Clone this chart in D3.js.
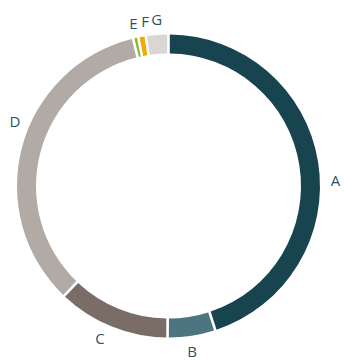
<!DOCTYPE html>
<html>
<head>
<meta charset="utf-8">
<style>
body { margin: 0; background: #fff; }
.label {
    font-family: "Open Sans", sans-serif;
    font-size: 15px;
    fill: #2f5260;
}
</style>
</head>
<body>
<svg id="chart" width="344" height="360"></svg>
<script src="https://d3js.org/d3.v7.min.js"></script>
<script>
let categories = ["A", "B", "C", "D", "E", "F", "G"];
let values = [45.0, 5.1, 12.0, 34.15, 0.55, 0.8, 2.4];
let colors = ["#17444f", "#4d7481", "#7a6d68", "#b1aaa5", "#8fb339", "#f2a900", "#dad6d3"];

let data = categories.map(function(c, i) { return {name: c, value: values[i]}; });

let cx = 168.5, cy = 186,
    outer = 151.5, inner = 132.5, labelR = 167;

// small angular nudges (degrees) so labels sit where the original put them
let labelNudge = {A: 7, B: 0.7, C: 2.3, D: 8, E: 0.4, F: 2, G: 0.3};

let svg = d3.select("#chart");
let chart = svg.append("g")
    .attr("transform", "translate(" + cx + "," + cy + ")");

let pie = d3.pie()
    .sort(null)
    .value(d => d.value);

let arc = d3.arc()
    .innerRadius(inner)
    .outerRadius(outer)
    .padAngle(0.013);

let arcs = pie(data);

chart.selectAll("path")
    .data(arcs)
    .join("path")
    .attr("d", arc)
    .attr("fill", (d, i) => colors[i]);

function labelAngle(d) {
    return (d.startAngle + d.endAngle) / 2 + labelNudge[d.data.name] * Math.PI / 180;
}

chart.selectAll("text")
    .data(arcs)
    .join("text")
    .attr("class", "label")
    .attr("text-anchor", "middle")
    .attr("dominant-baseline", "central")
    .attr("x", d => labelR * Math.sin(labelAngle(d)))
    .attr("y", d => -labelR * Math.cos(labelAngle(d)))
    .text(d => d.data.name);
</script>
</body>
</html>
